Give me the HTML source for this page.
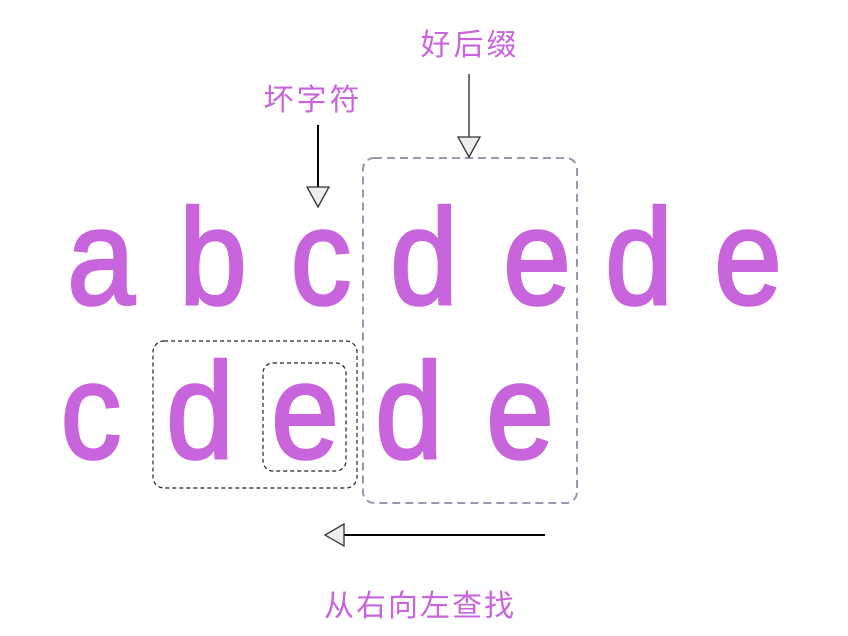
<!DOCTYPE html>
<html><head><meta charset="utf-8"><style>
html,body{margin:0;padding:0;background:#fff;}
svg{display:block;}
.L text{font-family:"Liberation Sans",sans-serif;fill:#c864dc;stroke:#c864dc;stroke-width:3;font-size:142px;text-anchor:middle;}
.C{font-family:"Liberation Sans","Noto Sans CJK SC",sans-serif;fill:#c864dc;text-anchor:middle;}
</style></head><body>
<svg width="848" height="636" viewBox="0 0 848 636" xmlns="http://www.w3.org/2000/svg">
<text class="C" x="313" y="110" font-size="30" letter-spacing="3">坏字符</text>
<text class="C" x="470" y="55" font-size="30" letter-spacing="3">好后缀</text>
<text class="C" x="420" y="616" font-size="30" letter-spacing="2">从右向左查找</text>

<g class="L">
<text transform="translate(101,304) scale(0.86,0.96)">a</text>
<text transform="translate(213,304) scale(0.86,0.96)">b</text>
<text transform="translate(321,304) scale(0.86,0.96)">c</text>
<text transform="translate(424,304) scale(0.86,0.96)">d</text>
<text transform="translate(537,304) scale(0.86,0.96)">e</text>
<text transform="translate(639,304) scale(0.86,0.96)">d</text>
<text transform="translate(748,304) scale(0.86,0.96)">e</text>
<text transform="translate(91,458) scale(0.86,0.96)">c</text>
<text transform="translate(200,458) scale(0.86,0.96)">d</text>
<text transform="translate(305,458) scale(0.86,0.96)">e</text>
<text transform="translate(409,458) scale(0.86,0.96)">d</text>
<text transform="translate(520,458) scale(0.86,0.96)">e</text>
</g>

<rect x="363" y="158" width="214" height="345" rx="11" fill="none" stroke="#9a96b0" stroke-width="2" stroke-dasharray="8,5"/>
<rect x="153" y="341" width="204" height="147" rx="11" fill="none" stroke="#222" stroke-width="1.2" stroke-dasharray="4,3"/>
<rect x="263" y="363" width="83" height="108" rx="10" fill="none" stroke="#222" stroke-width="1.2" stroke-dasharray="4,3"/>

<line x1="318" y1="125" x2="318" y2="188" stroke="#000" stroke-width="2"/>
<polygon points="307,187 329,187 318,207" fill="#eee" stroke="#333" stroke-width="1.3"/>
<line x1="469" y1="74" x2="469" y2="137" stroke="#222" stroke-width="1.3"/>
<polygon points="458,137 480,137 469,157" fill="#eee" stroke="#333" stroke-width="1.3"/>
<line x1="545" y1="535" x2="344" y2="535" stroke="#000" stroke-width="2"/>
<polygon points="344,524 344,546 325,535" fill="#eee" stroke="#333" stroke-width="1.3"/>
</svg>
</body></html>
